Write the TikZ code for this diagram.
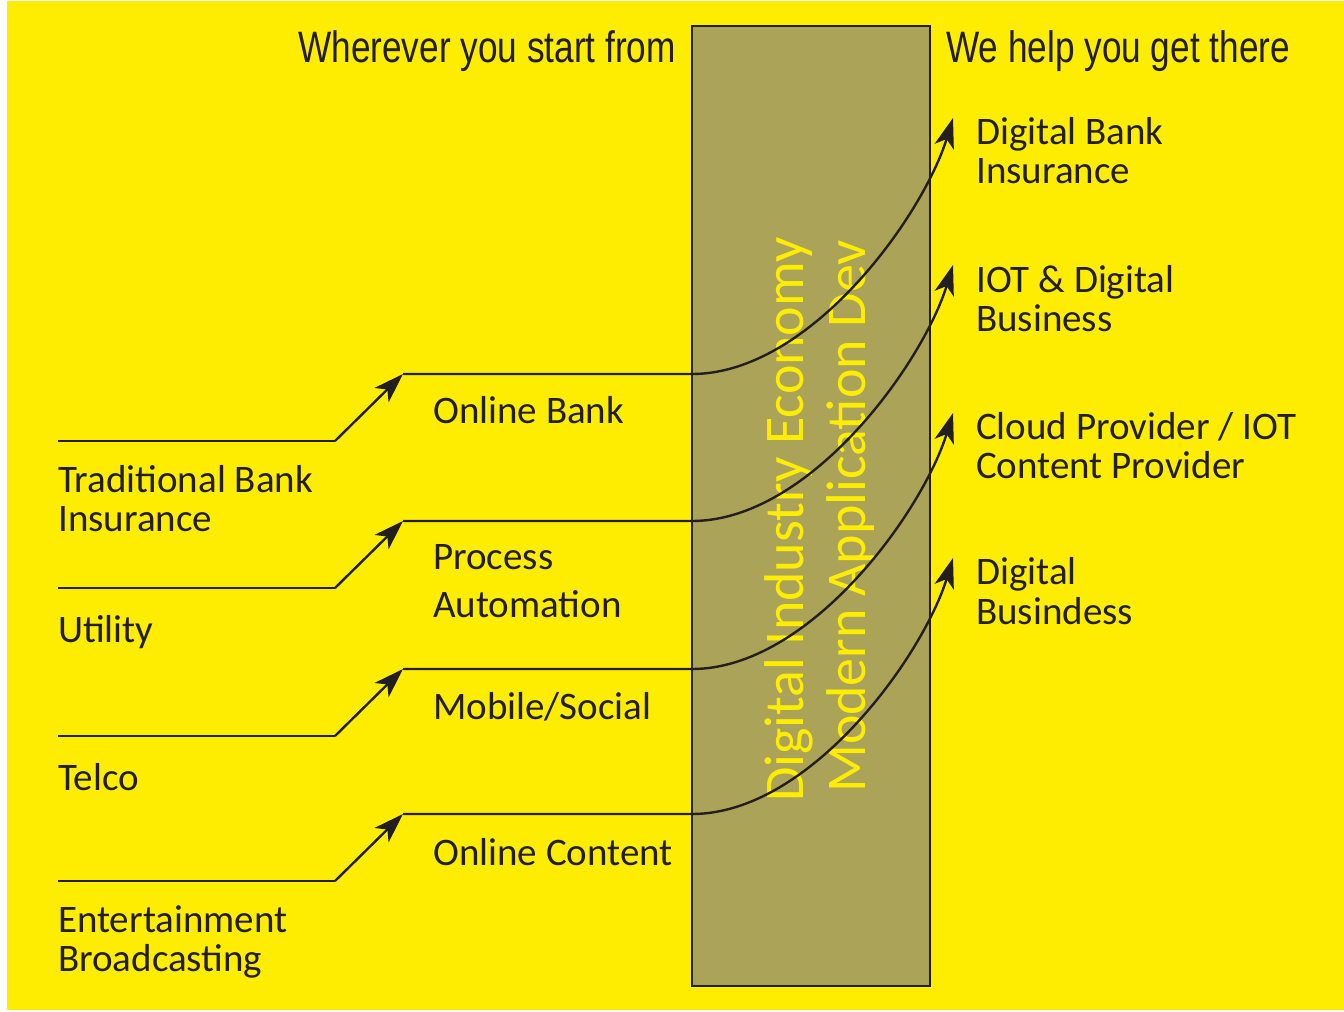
\documentclass[tikz,border=0pt]{standalone}
\usepackage{fontspec}
\setmainfont{Carlito}
\newfontfamily\headfont[FakeStretch=0.8]{Liberation Sans}
\usetikzlibrary{arrows.meta,calc}
\definecolor{bgyellow}{RGB}{255,237,0}
\definecolor{bandolive}{RGB}{170,163,88}
\definecolor{ink}{RGB}{35,31,32}
\begin{document}
\begin{tikzpicture}[x=1pt,y=-1pt,
  lbl/.style={font=\fontsize{39}{39}\selectfont, text=ink, inner sep=0pt, align=left, anchor=base west},
  head/.style={font=\headfont\fontsize{44}{44}\selectfont, text=ink, inner sep=0pt},
  vert/.style={font=\fontsize{56}{56}\selectfont, text=bgyellow, inner sep=0pt, rotate=90, anchor=base west},
  conn/.style={line width=2.4pt, draw=ink},
  tip/.style={-{Stealth[length=30pt,width=20pt,inset=8pt]}},
  band/.style={fill=bandolive, draw=ink, line width=2pt}
]
\useasboundingbox (0,0) rectangle (1344,1012);
\fill[bgyellow] (7,1) rectangle (1344,1010);
\draw[band] (692,26) rectangle (930,986);

% headers
\node[head, anchor=base east] (hl) at (676,62) {Wherever you start from};
\node[head, anchor=base west] (hr) at (946,62) {We help you get there};

% vertical band texts
\node[vert] (v1) at (803,802) {Digital Industry Economy};
\node[vert] (v2) at (865,793) {Modern Application Dev};

% left labels
\node[lbl] (trad) at (58,531) {Traditional Bank\\Insurance};
\node[lbl] (util) at (58,642) {Utility};
\node[lbl] (telco) at (58,790) {Telco};
\node[lbl] (ent) at (58,971) {Entertainment\\Broadcasting};

% middle labels
\node[lbl] (onb) at (433,423) {Online Bank};
\node[lbl] (proc) at (433,617) {Process\\[9pt]Automation};
\node[lbl] (mob) at (433,719) {Mobile/Social};
\node[lbl] (onc) at (433,865) {Online Content};

% right labels
\node[lbl] (dbi) at (976,183) {Digital Bank\\Insurance};
\node[lbl] (iot) at (976,331) {IOT \& Digital\\Business};
\node[lbl] (cloud) at (976,478) {Cloud Provider / IOT\\Content Provider};
\node[lbl] (dbus) at (976,624) {Digital\\[1pt]Busindess};

% connectors
\foreach \i/\ya in {1/374,2/521,3/669,4/814}{
  \coordinate (s\i) at (58,\ya+67);
  \coordinate (k\i) at (335,\ya+67);
  \coordinate (t\i) at (403,\ya);
  \coordinate (e\i) at (692,\ya);
  \coordinate (f\i) at (953,\ya-256);
  \draw[conn] (s\i) -- (k\i);
  \draw[conn,tip] (k\i) -- (t\i);
  \draw[conn,tip] (t\i) -- (e\i) .. controls ($(e\i)+(118,0)$) and ($(f\i)+(-30,98)$) .. (f\i);
}
\end{tikzpicture}
\end{document}
